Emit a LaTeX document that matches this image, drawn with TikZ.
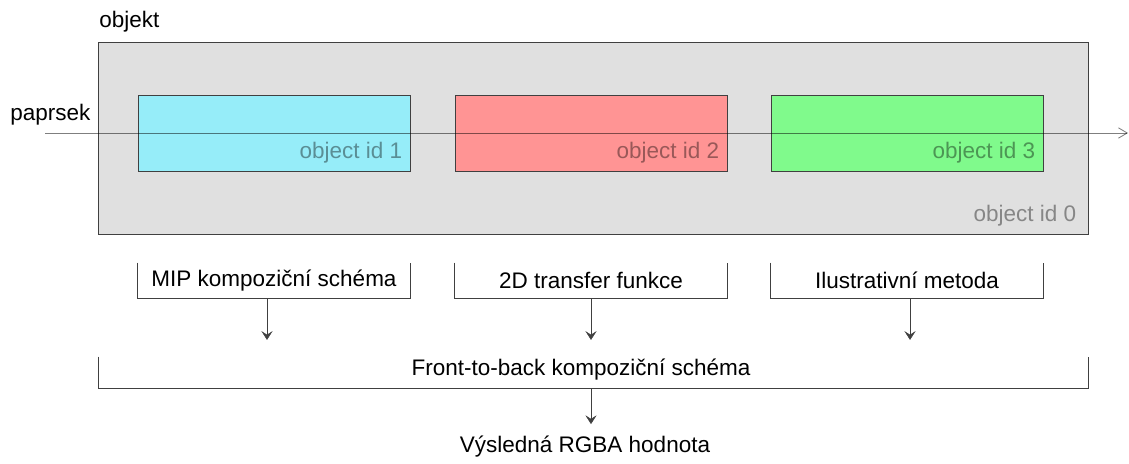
\documentclass[tikz,border=0pt]{standalone}
\usepackage{fontspec}
\setmainfont{Liberation Sans}
\usetikzlibrary{arrows.meta, positioning, calc}
\definecolor{objgray}{RGB}{224,224,224}
\definecolor{idcyan}{RGB}{150,237,249}
\definecolor{idred}{RGB}{255,148,148}
\definecolor{idgreen}{RGB}{128,250,140}
\definecolor{edgegray}{RGB}{64,64,64}

\begin{document}
\begin{tikzpicture}[
    x=0.025cm, y=-0.025cm,
    %% Styles
    objbox/.style={
      rectangle, draw=edgegray, semithick,
      minimum width=24.725cm, minimum height=4.8cm, inner sep=0pt,
      fill=objgray
    },
    idbox/.style={
      rectangle, draw=edgegray, semithick,
      minimum width=6.8cm, minimum height=1.9cm, inner sep=0pt
    },
    stagebox/.style={
      rectangle, minimum width=6.8cm, minimum height=0.875cm,
      inner sep=0pt, font=\fontsize{16}{19}\selectfont
    },
    idlbl/.style={font=\fontsize{16}{19}\selectfont, text=black, text opacity=0.4,
      inner sep=0pt},
    lbl/.style={font=\fontsize{16}{19}\selectfont, inner sep=0pt},
    bracket/.style={draw=edgegray, semithick},
    arrow/.style={-{Stealth[length=2.2mm, width=2.8mm, inset=0.9mm]}, draw=edgegray, thin},
    ray/.style={-{Straight Barb[length=2.2mm, width=2.6mm]}, draw=black, draw opacity=0.5,
      semithick}
  ]

  \useasboundingbox (0,0) rectangle (1129,464);

  %% ── Object with the three ids ─────────────────────────────
  \node[objbox] (obj) at (593.5,138) {};
  \node[lbl, anchor=west] (objlbl) at (99,22) {objekt};

  \node[idbox, fill=idcyan]  (id1) at (274,133) {};
  \node[idbox, fill=idred]   (id2) at (591,133) {};
  \node[idbox, fill=idgreen] (id3) at (907,133) {};

  \node[idlbl, anchor=south east] at ([xshift=-0.2cm, yshift=0.2cm]id1.south east) {object id 1};
  \node[idlbl, anchor=south east] at ([xshift=-0.2cm, yshift=0.2cm]id2.south east) {object id 2};
  \node[idlbl, anchor=south east] at ([xshift=-0.2cm, yshift=0.2cm]id3.south east) {object id 3};
  \node[idlbl, anchor=south east] at ([xshift=-0.3cm, yshift=0.2cm]obj.south east) {object id 0};

  %% ── Ray ───────────────────────────────────────────────────
  \coordinate (raystart) at (45,133);
  \coordinate (rayend) at (1128,133);
  \draw[ray] (raystart) -- (rayend);
  \node[lbl, anchor=west] (raylbl) at (10,115) {paprsek};

  %% ── Per-object stages (open brackets) ─────────────────────
  \node[stagebox] (mip)    at (274,280.5) {MIP kompoziční schéma};
  \node[stagebox] (tf)     at (591,280.5) {2D transfer funkce};
  \node[stagebox] (illust) at (907,280.5) {Ilustrativní metoda};

  \foreach \n in {mip, tf, illust}
    \draw[bracket] (\n.north west) |- (\n.south east) -- (\n.north east);

  %% ── Front-to-back compositing ─────────────────────────────
  \node[stagebox, minimum width=24.725cm, minimum height=0.775cm] (ftb) at (593.5,372.5) {};
  \node[lbl] (ftblbl) at (581,370) {Front-to-back kompoziční schéma};
  \draw[bracket] (ftb.north west) |- (ftb.south east) -- (ftb.north east);

  \node[lbl] (result) at (585,447) {Výsledná RGBA hodnota};

  %% ── Arrows ────────────────────────────────────────────────
  \draw[arrow, shorten >=0.42cm] ([xshift=-0.175cm]mip.south) -- ([xshift=-0.175cm]mip.south |- ftb.north);
  \draw[arrow, shorten >=0.42cm] (tf.south) -- (tf.south |- ftb.north);
  \draw[arrow, shorten >=0.42cm] ([xshift=0.075cm]illust.south) -- ([xshift=0.075cm]illust.south |- ftb.north);
  \draw[arrow, shorten >=0.3cm] (tf.south |- ftb.south) -- (tf.south |- result.north);

\end{tikzpicture}
\end{document}
